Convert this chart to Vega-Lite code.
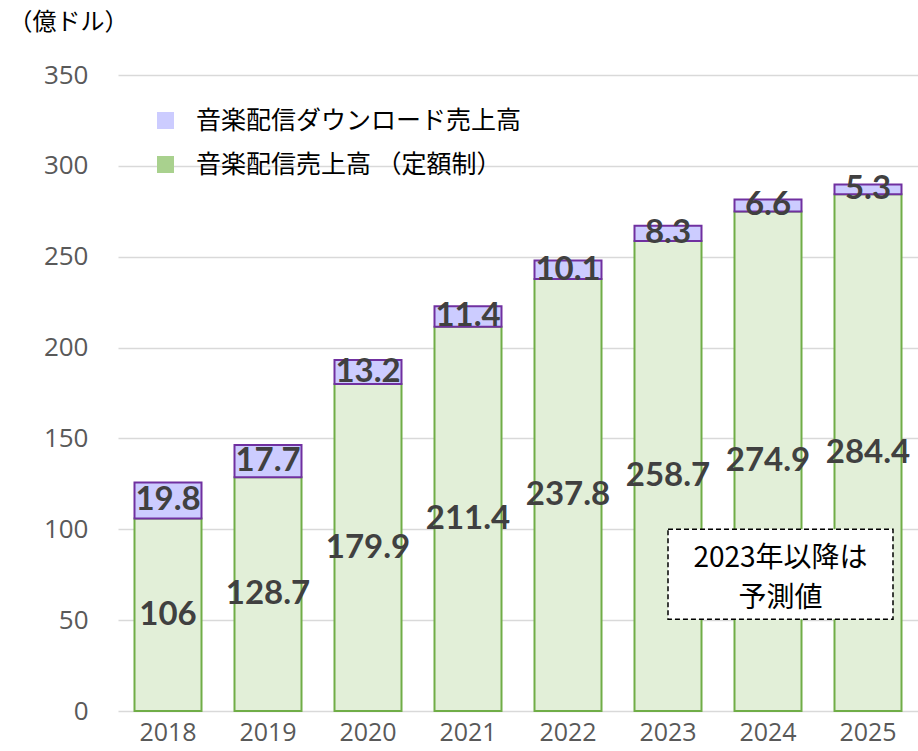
{
  "$schema": "https://vega.github.io/schema/vega-lite/v6.json",
  "width": 800,
  "height": 636,
  "autosize": {"type": "none"},
  "padding": {"left": 118, "top": 75, "right": 0, "bottom": 40},
  "background": "white",
  "config": {"view": {"stroke": null}},
  "datasets": {
    "sales": [
      {"year": "2018", "type": "音楽配信売上高 （定額制）", "value": 106},
      {"year": "2018", "type": "音楽配信ダウンロード売上高", "value": 19.8},
      {"year": "2019", "type": "音楽配信売上高 （定額制）", "value": 128.7},
      {"year": "2019", "type": "音楽配信ダウンロード売上高", "value": 17.7},
      {"year": "2020", "type": "音楽配信売上高 （定額制）", "value": 179.9},
      {"year": "2020", "type": "音楽配信ダウンロード売上高", "value": 13.2},
      {"year": "2021", "type": "音楽配信売上高 （定額制）", "value": 211.4},
      {"year": "2021", "type": "音楽配信ダウンロード売上高", "value": 11.4},
      {"year": "2022", "type": "音楽配信売上高 （定額制）", "value": 237.8},
      {"year": "2022", "type": "音楽配信ダウンロード売上高", "value": 10.1},
      {"year": "2023", "type": "音楽配信売上高 （定額制）", "value": 258.7},
      {"year": "2023", "type": "音楽配信ダウンロード売上高", "value": 8.3},
      {"year": "2024", "type": "音楽配信売上高 （定額制）", "value": 274.9},
      {"year": "2024", "type": "音楽配信ダウンロード売上高", "value": 6.6},
      {"year": "2025", "type": "音楽配信売上高 （定額制）", "value": 284.4},
      {"year": "2025", "type": "音楽配信ダウンロード売上高", "value": 5.3}
    ],
    "note": [
      {"x0": 5.5, "x1": 7.75, "y0": 50.5, "y1": 100, "xm": 6.625, "ym": 83.5, "label": ["2023年以降は", "予測値"]}
    ]
  },
  "layer": [
    {
      "data": {"name": "sales"},
      "encoding": {
        "x": {
          "field": "year", "type": "ordinal",
          "scale": {"paddingInner": 0.33, "paddingOuter": 0.165},
          "axis": {
            "title": null, "domain": false, "ticks": false,
            "labelAngle": 0, "labelFont": "Open Sans", "labelFontSize": 25,
            "labelColor": "#595959", "labelPadding": 9
          }
        }
      },
      "layer": [
        {
          "mark": {"type": "bar", "fill": "white", "strokeWidth": 0},
          "encoding": {
            "y": {
              "field": "value", "type": "quantitative", "stack": "zero",
              "scale": {"domain": [0, 350], "nice": false},
              "axis": {
                "values": [0, 50, 100, 150, 200, 250, 300, 350],
                "title": "（億ドル）", "titleAngle": 0, "titleAlign": "left",
                "titleBaseline": "middle", "titleX": -110, "titleY": -53,
                "titleFont": "Noto Sans CJK JP", "titleFontSize": 24, "titleFontWeight": "normal",
                "titleColor": "#000000",
                "domain": false, "ticks": false,
                "labelFont": "Open Sans", "labelFontSize": 26, "labelColor": "#595959",
                "labelPadding": 30,
                "gridColor": "#d9d9d9", "gridWidth": 1.5
              }
            },
            "order": {"field": "type", "sort": "descending"}
          }
        },
        {
          "mark": {"type": "bar", "strokeWidth": 2},
          "encoding": {
            "y": {"field": "value", "type": "quantitative", "stack": "zero"},
            "fill": {
              "field": "type", "type": "nominal",
              "scale": {
                "domain": ["音楽配信ダウンロード売上高", "音楽配信売上高 （定額制）"],
                "range": ["#ccccff", "#a9d18e"]
              },
              "legend": {
                "title": null, "orient": "none", "legendX": 35, "legendY": 33,
                "symbolType": "square", "symbolSize": 289, "symbolStrokeWidth": 0,
                "symbolOpacity": 1,
                "labelFont": "Noto Sans CJK JP", "labelFontSize": 25, "labelColor": "#000000",
                "labelOffset": 18, "rowPadding": 18, "labelLimit": 500
              }
            },
            "fillOpacity": {
              "condition": {"test": "datum.type === '音楽配信ダウンロード売上高'", "value": 1},
              "value": 0.34
            },
            "stroke": {
              "condition": {"test": "datum.type === '音楽配信ダウンロード売上高'", "value": "#7030a0"},
              "value": "#70ad47"
            },
            "order": {"field": "type", "sort": "descending"}
          }
        },
        {
          "transform": [
            {"stack": "value", "groupby": ["year"], "sort": [{"field": "type", "order": "descending"}], "as": ["v0", "v1"]},
            {"calculate": "(datum.v0 + datum.v1) / 2", "as": "vmid"}
          ],
          "mark": {"type": "text", "font": "Lato", "fontWeight": "bold", "fontSize": 33, "color": "#404040", "baseline": "middle"},
          "encoding": {
            "y": {"field": "vmid", "type": "quantitative"},
            "text": {"field": "value", "type": "quantitative"}
          }
        }
      ]
    },
    {
      "data": {"name": "note"},
      "layer": [
        {
          "mark": {"type": "rect", "fill": "white", "stroke": "#000000", "strokeWidth": 1.5, "strokeDash": [5, 3]},
          "encoding": {
            "x": {"field": "x0", "type": "quantitative", "scale": {"domain": [0, 8], "nice": false, "zero": false}, "axis": null},
            "x2": {"field": "x1"},
            "y": {"field": "y0", "type": "quantitative"},
            "y2": {"field": "y1"}
          }
        },
        {
          "mark": {"type": "text", "font": "Noto Sans CJK JP", "fontSize": 28, "color": "#000000", "lineHeight": 40, "baseline": "middle", "align": "center"},
          "encoding": {
            "x": {"field": "xm", "type": "quantitative", "scale": {"domain": [0, 8], "nice": false, "zero": false}, "axis": null},
            "y": {"field": "ym", "type": "quantitative"},
            "text": {"field": "label"}
          }
        }
      ]
    }
  ],
  "resolve": {"scale": {"x": "independent"}}
}
